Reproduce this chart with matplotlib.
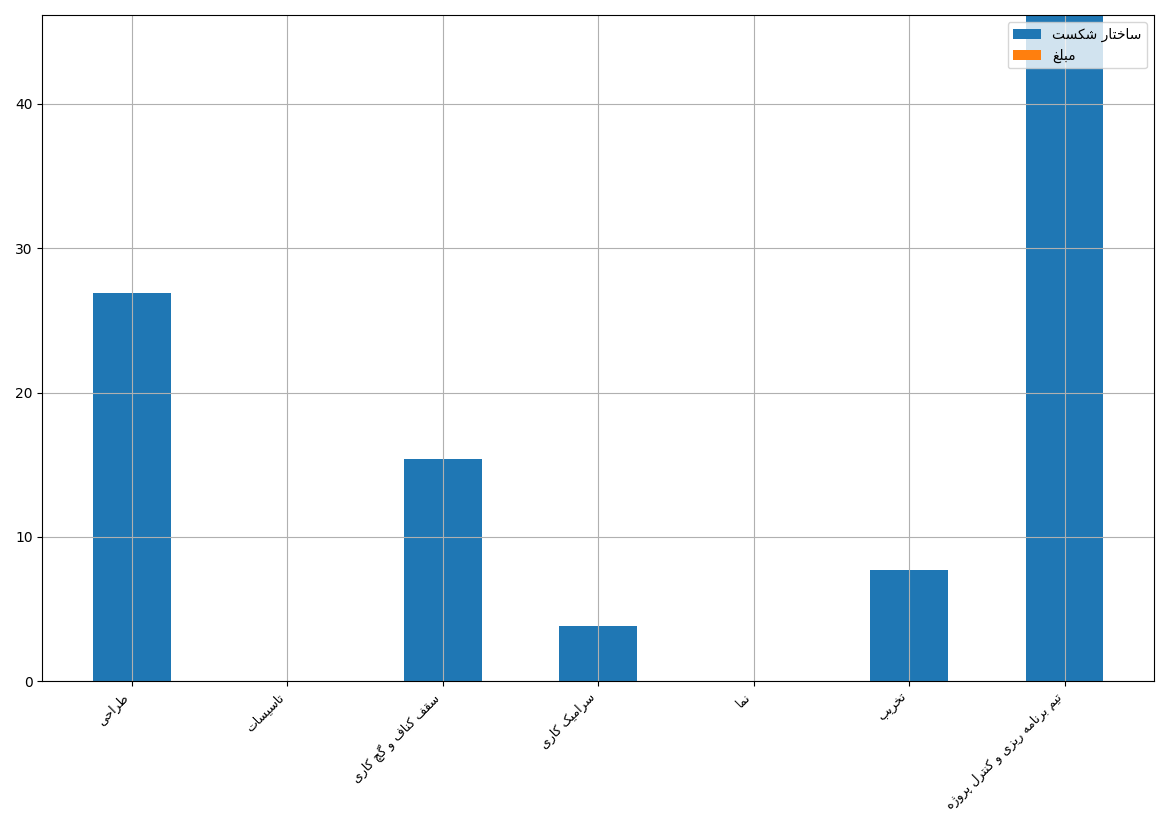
import numpy as np
import matplotlib
matplotlib.use('Agg')
import matplotlib.pyplot as plt

# категории (подписи по оси X) и значения рядов
categories = ['طراحی', 'تاسیسات', 'سقف کناف و گچ کاری', 'سرامیک کاری', 'نما', 'تخریب',
              'تیم برنامه ریزی و کنترل پروژه']
breakdown = [26.92, 0, 15.38, 3.85, 0, 7.69, 46.15]   # ساختار شکست
amount = [0, 0, 0, 0, 0, 0, 0]                          # مبلغ
series_names = ['ساختار شکست', 'مبلغ']

# формы арабских букв: изолированная, конечная, начальная, срединная
FORMS = {
    'ا': ('\uFE8D', '\uFE8E', None, None),
    'ب': ('\uFE8F', '\uFE90', '\uFE91', '\uFE92'),
    'پ': ('\uFB56', '\uFB57', '\uFB58', '\uFB59'),
    'ت': ('\uFE95', '\uFE96', '\uFE97', '\uFE98'),
    'ح': ('\uFEA1', '\uFEA2', '\uFEA3', '\uFEA4'),
    'خ': ('\uFEA5', '\uFEA6', '\uFEA7', '\uFEA8'),
    'چ': ('\uFB7A', '\uFB7B', '\uFB7C', '\uFB7D'),
    'ر': ('\uFEAD', '\uFEAE', None, None),
    'ز': ('\uFEAF', '\uFEB0', None, None),
    'ژ': ('\uFB8A', '\uFB8B', None, None),
    'س': ('\uFEB1', '\uFEB2', '\uFEB3', '\uFEB4'),
    'ش': ('\uFEB5', '\uFEB6', '\uFEB7', '\uFEB8'),
    'ط': ('\uFEC1', '\uFEC2', '\uFEC3', '\uFEC4'),
    'غ': ('\uFECD', '\uFECE', '\uFECF', '\uFED0'),
    'ف': ('\uFED1', '\uFED2', '\uFED3', '\uFED4'),
    'ق': ('\uFED5', '\uFED6', '\uFED7', '\uFED8'),
    'ک': ('\uFB8E', '\uFB8F', '\uFB90', '\uFB91'),
    'گ': ('\uFB92', '\uFB93', '\uFB94', '\uFB95'),
    'ل': ('\uFEDD', '\uFEDE', '\uFEDF', '\uFEE0'),
    'م': ('\uFEE1', '\uFEE2', '\uFEE3', '\uFEE4'),
    'ن': ('\uFEE5', '\uFEE6', '\uFEE7', '\uFEE8'),
    'و': ('\uFEED', '\uFEEE', None, None),
    'ه': ('\uFEE9', '\uFEEA', '\uFEEB', '\uFEEC'),
    'ی': ('\uFBFC', '\uFBFD', '\uFBFE', '\uFBFF'),
}


def shape(text):
    '''Соединение букв и разворот строки справа налево'''
    out = []
    for i, c in enumerate(text):
        if c not in FORMS:
            out.append(c)
            continue
        iso, fin, ini, med = FORMS[c]
        prev = text[i - 1] if i > 0 else ''
        nxt = text[i + 1] if i + 1 < len(text) else ''
        join_prev = prev in FORMS and FORMS[prev][2] is not None
        join_next = ini is not None and nxt in FORMS
        if join_prev and join_next:
            out.append(med)
        elif join_prev:
            out.append(fin)
        elif join_next:
            out.append(ini)
        else:
            out.append(iso)
    return ''.join(reversed(out))


x = np.arange(len(categories))

fig, ax = plt.subplots(figsize=(11.69, 8.27), dpi=100)
ax.bar(x, breakdown, width=0.5, color='#1f77b4', label=shape(series_names[0]))
ax.bar(x, amount, width=0.5, color='#ff7f0e', label=shape(series_names[1]))

ax.set_xticks(x)
ax.set_xticklabels([shape(c) for c in categories], rotation=45, ha='right', fontsize=9)
ax.set_ylim(0, max(breakdown))
ax.grid(True)
ax.legend(loc='upper right')

fig.tight_layout()
fig.savefig('out.png')
